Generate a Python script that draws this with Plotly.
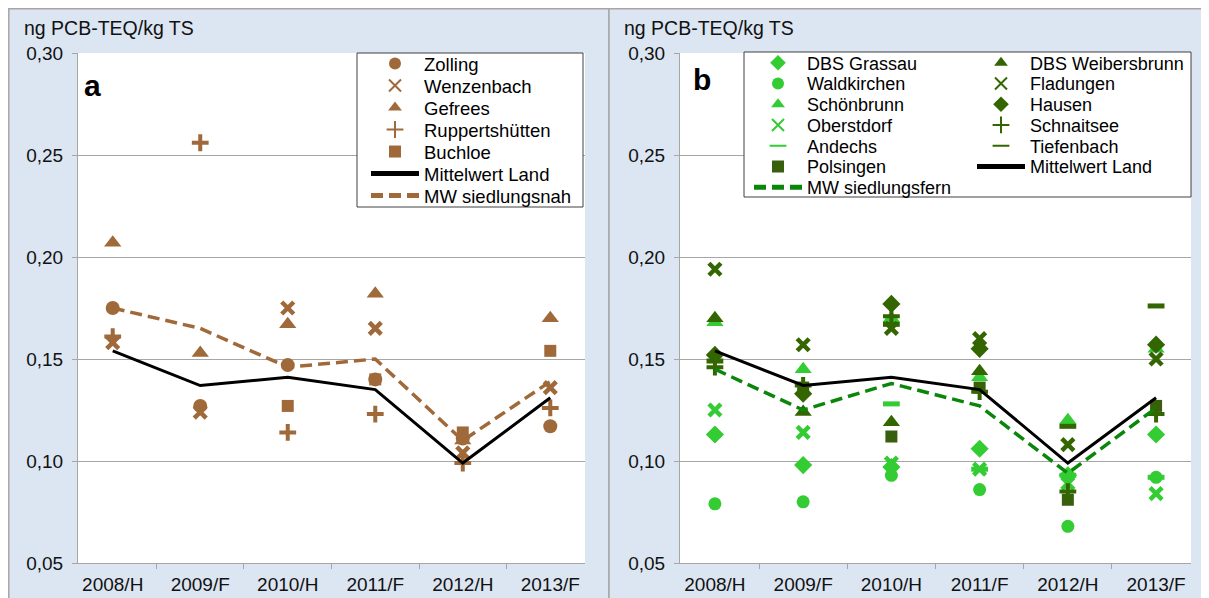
import plotly.graph_objects as go

# ---------------- data ----------------
categories = ["2008/H", "2009/F", "2010/H", "2011/F", "2012/H", "2013/F"]
y_ticks = [0.05, 0.10, 0.15, 0.20, 0.25, 0.30]

# panel a (siedlungsnah)
zolling = [0.175, 0.127, 0.147, 0.140, 0.111, 0.117]
wenzenbach = [0.158, 0.124, 0.175, 0.165, 0.104, 0.136]
gefrees = [0.207, 0.153, 0.167, 0.182, 0.110, 0.170]
ruppertshuetten = [0.161, 0.256, 0.114, 0.123, 0.099, 0.126]
buchloe = [None, None, 0.127, 0.140, 0.114, 0.154]
mittelwert_land = [0.154, 0.137, 0.141, 0.135, 0.099, 0.131]
mw_siedlungsnah = [0.175, 0.165, 0.146, 0.150, 0.110, 0.139]

# panel b (siedlungsfern)
grassau = [0.113, 0.098, 0.097, 0.106, 0.093, 0.113]
waldkirchen = [0.079, 0.080, 0.093, 0.086, 0.068, 0.092]
schoenbrunn = [0.168, 0.145, 0.170, 0.141, 0.120, 0.155]
oberstdorf = [0.125, 0.114, 0.099, 0.096, 0.089, 0.084]
andechs = [None, None, 0.128, 0.096, 0.093, 0.092]
polsingen = [None, 0.136, 0.112, 0.136, 0.081, 0.127]
weibersbrunn = [0.170, 0.124, 0.119, 0.144, None, None]
fladungen = [0.194, 0.157, 0.165, 0.160, 0.108, 0.150]
hausen = [0.152, 0.133, 0.177, 0.155, None, 0.157]
schnaitsee = [0.146, 0.137, 0.171, 0.134, 0.085, 0.123]
tiefenbach = [0.149, None, 0.167, None, 0.117, 0.176]
mw_siedlungsfern = [0.145, 0.125, 0.138, 0.127, 0.094, 0.126]

# ---------------- styles / layout geometry ----------------
# the page body has an 8px margin, so the figure starts at (8, 8) of the window
OX, OY = 8, 8
W, H = 1201, 590
FONT = "Liberation Sans, Arial, sans-serif"
BROWN = "#a0693a"
LIGHT = "#33cc33"
DARK = "#336600"
DARK2 = "#385f0c"
DGREEN = "#0a870a"
GRID = "#a6a6a6"
PANEL = "#dce6f2"
TXT = "#111111"


def px(x):
    return (x - OX) / W


def py(y):
    return 1 - (y - OY) / H


def mk(symbol, color, size, lw=0):
    return dict(symbol=symbol, size=size, color=color, line=dict(width=lw, color=color))


styles = {
    "Zolling": mk("circle", BROWN, 14),
    "Wenzenbach": mk("x-thin", BROWN, 12, 4.5),
    "Gefrees": mk("triangle-up", BROWN, 15),
    "Ruppertshütten": mk("cross-thin", BROWN, 12, 4),
    "Buchloe": mk("square", BROWN, 12),
    "DBS Grassau": mk("diamond", LIGHT, 14),
    "Waldkirchen": mk("circle", LIGHT, 13),
    "Schönbrunn": mk("triangle-up", LIGHT, 15),
    "Oberstdorf": mk("x-thin", LIGHT, 12, 4.5),
    "Andechs": mk("line-ew", LIGHT, 12, 5),
    "Polsingen": mk("square", DARK2, 12),
    "DBS Weibersbrunn": mk("triangle-up", DARK, 15),
    "Fladungen": mk("x-thin", DARK, 12, 4.5),
    "Hausen": mk("diamond", DARK, 14),
    "Schnaitsee": mk("cross-thin", DARK, 12, 4),
    "Tiefenbach": mk("line-ew", DARK, 12, 5),
}

fig = go.Figure()
legend_layouts = {}
legend_count = [0]


def next_legend(x0, yc, size=18):
    legend_count[0] += 1
    n = legend_count[0]
    key = "legend" if n == 1 else f"legend{n}"
    legend_layouts[key] = dict(
        x=px(x0), y=py(yc), xanchor="left", yanchor="middle",
        bgcolor="rgba(0,0,0,0)", borderwidth=0, itemwidth=48,
        itemsizing="constant",
        font=dict(family=FONT, size=size, color="black"),
    )
    return key


def add_markers(name, values, xa, ya, lx, ly, size=18):
    fig.add_trace(go.Scatter(
        x=categories, y=values, name=name, mode="markers",
        marker=styles[name], xaxis=xa, yaxis=ya,
        legend=next_legend(lx, ly, size), showlegend=True,
    ))


def add_line(name, values, color, dash, xa, ya, lx, ly, width=3, size=18):
    fig.add_trace(go.Scatter(
        x=categories, y=values, name=name, mode="lines",
        line=dict(color=color, width=width, dash=dash),
        xaxis=xa, yaxis=ya, legend=next_legend(lx, ly, size), showlegend=True,
    ))


# panel a legend rows
ra = [64 + 22 * i for i in range(7)]
LXA = 366
FA = 18.5
add_markers("Zolling", zolling, "x", "y", LXA, ra[0], FA)
add_markers("Wenzenbach", wenzenbach, "x", "y", LXA, ra[1], FA)
add_markers("Gefrees", gefrees, "x", "y", LXA, ra[2], FA)
add_markers("Ruppertshütten", ruppertshuetten, "x", "y", LXA, ra[3], FA)
add_markers("Buchloe", buchloe, "x", "y", LXA, ra[4], FA)
add_line("Mittelwert Land", mittelwert_land, "black", "solid", "x", "y", LXA, ra[5], 3, FA)
add_line("MW siedlungsnah", mw_siedlungsnah, BROWN, "12px,6px", "x", "y", LXA, ra[6], 3.5, FA)

# panel b legend rows
rb = [63 + 20.75 * i for i in range(7)]
LXB1, LXB2 = 749, 972
add_markers("DBS Grassau", grassau, "x2", "y2", LXB1, rb[0])
add_markers("Waldkirchen", waldkirchen, "x2", "y2", LXB1, rb[1])
add_markers("Schönbrunn", schoenbrunn, "x2", "y2", LXB1, rb[2])
add_markers("Oberstdorf", oberstdorf, "x2", "y2", LXB1, rb[3])
add_markers("Andechs", andechs, "x2", "y2", LXB1, rb[4])
add_markers("Polsingen", polsingen, "x2", "y2", LXB1, rb[5])
add_markers("DBS Weibersbrunn", weibersbrunn, "x2", "y2", LXB2, rb[0])
add_markers("Fladungen", fladungen, "x2", "y2", LXB2, rb[1])
add_markers("Hausen", hausen, "x2", "y2", LXB2, rb[2])
add_markers("Schnaitsee", schnaitsee, "x2", "y2", LXB2, rb[3])
add_markers("Tiefenbach", tiefenbach, "x2", "y2", LXB2, rb[4])
add_line("Mittelwert Land", mittelwert_land, "black", "solid", "x2", "y2", LXB2, rb[5])
add_line("MW siedlungsfern", mw_siedlungsfern, DGREEN, "12px,6px", "x2", "y2", LXB1, rb[6], 3.5)

xaxis_common = dict(
    type="category", categoryorder="array", categoryarray=categories,
    tickson="boundaries", ticks="outside", ticklen=5, tickcolor=GRID,
    showline=True, linecolor=GRID, linewidth=1, showgrid=False,
    tickfont=dict(family=FONT, size=19, color=TXT),
    ticklabelstandoff=4, fixedrange=True, automargin=False,
)
yaxis_common = dict(
    range=[0.05, 0.30], tickmode="array", tickvals=y_ticks, tickformat=".2f",
    ticks="outside", ticklen=5, tickcolor=GRID,
    showline=True, linecolor=GRID, linewidth=1,
    showgrid=True, gridcolor=GRID, gridwidth=1, zeroline=False,
    tickfont=dict(family=FONT, size=19, color=TXT),
    ticklabelstandoff=5, fixedrange=True, automargin=False,
)

y_dom = [py(563), py(53)]

shapes = [
    dict(type="rect", xref="paper", yref="paper", x0=px(8.8), x1=px(609), y0=py(640), y1=py(8.8),
         fillcolor=PANEL, line=dict(color=GRID, width=1.5), layer="below"),
    dict(type="rect", xref="paper", yref="paper", x0=px(609), x1=px(1240), y0=py(640), y1=py(8.8),
         fillcolor=PANEL, line=dict(color=GRID, width=1.5), layer="below"),
    dict(type="rect", xref="paper", yref="paper", x0=px(78), x1=px(585), y0=y_dom[0], y1=y_dom[1],
         fillcolor="white", line=dict(width=0), layer="below"),
    dict(type="rect", xref="paper", yref="paper", x0=px(680), x1=px(1191), y0=y_dom[0], y1=y_dom[1],
         fillcolor="white", line=dict(width=0), layer="below"),
    # legend frames
    dict(type="rect", xref="paper", yref="paper", x0=px(357), x1=px(583), y0=py(207), y1=py(53),
         fillcolor="white", line=dict(color="#404040", width=1), layer="above"),
    dict(type="rect", xref="paper", yref="paper", x0=px(744), x1=px(1191), y0=py(197), y1=py(52),
         fillcolor="white", line=dict(color="#404040", width=1), layer="above"),
]

annotations = [
    dict(text="ng PCB-TEQ/kg TS", x=px(22), y=py(28), xref="paper", yref="paper",
         xanchor="left", yanchor="middle", showarrow=False,
         font=dict(family=FONT, size=19.5, color=TXT)),
    dict(text="ng PCB-TEQ/kg TS", x=px(622), y=py(28), xref="paper", yref="paper",
         xanchor="left", yanchor="middle", showarrow=False,
         font=dict(family=FONT, size=19.5, color=TXT)),
    dict(text="<b>a</b>", x=px(82), y=py(85), xref="paper", yref="paper",
         xanchor="left", yanchor="middle", showarrow=False,
         font=dict(family=FONT, size=30, color="black")),
    dict(text="<b>b</b>", x=px(691), y=py(80), xref="paper", yref="paper",
         xanchor="left", yanchor="middle", showarrow=False,
         font=dict(family=FONT, size=30, color="black")),
]

layout = dict(
    width=W, height=H,
    margin=dict(l=0, r=0, t=0, b=0, pad=0, autoexpand=False),
    paper_bgcolor="white", plot_bgcolor="rgba(0,0,0,0)",
    separators=",.",
    font=dict(family=FONT, size=18, color="black"),
    xaxis=dict(domain=[px(78), px(585)], anchor="y", **xaxis_common),
    yaxis=dict(domain=y_dom, anchor="x", **yaxis_common),
    xaxis2=dict(domain=[px(680), px(1191)], anchor="y2", **xaxis_common),
    yaxis2=dict(domain=y_dom, anchor="x2", **yaxis_common),
    shapes=shapes, annotations=annotations, showlegend=True,
)
layout.update(legend_layouts)
fig.update_layout(**layout)

fig.write_html("out.html")
